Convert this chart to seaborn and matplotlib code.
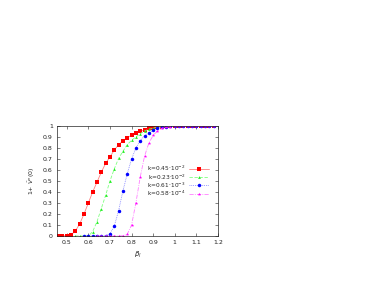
import numpy as np
import pandas as pd
import matplotlib
matplotlib.use("Agg")
import matplotlib.pyplot as plt
import seaborn as sns

labels = [r"k=0.45$\cdot$10$^{-2}$", r"k=0.23$\cdot$10$^{-2}$",
          r"k=0.61$\cdot$10$^{-3}$", r"k=0.58$\cdot$10$^{-4}$"]

x_red = [0.46, 0.48, 0.50, 0.52, 0.54, 0.56, 0.58, 0.60, 0.62, 0.64, 0.66, 0.68,
         0.70, 0.72, 0.74, 0.76, 0.78, 0.80, 0.82, 0.84, 0.86, 0.88, 0.90, 0.92,
         0.94, 0.96, 0.98, 1.00, 1.02, 1.04, 1.06, 1.08, 1.10, 1.12, 1.14, 1.16, 1.18]
y_red = [0.0, 0.0, 0.003, 0.01, 0.045, 0.11, 0.20, 0.30, 0.40, 0.49, 0.58, 0.66,
         0.72, 0.78, 0.83, 0.865, 0.895, 0.915, 0.935, 0.952, 0.965, 0.978, 0.986, 0.992,
         0.995, 0.997, 0.998, 0.999, 1.0, 1.0, 1.0, 1.0, 1.0, 1.0, 1.0, 1.0, 1.0]

x_green = [0.54, 0.56, 0.58, 0.60, 0.62, 0.64, 0.66, 0.68, 0.70, 0.72, 0.74, 0.76,
           0.78, 0.80, 0.82, 0.84, 0.86, 0.88, 0.90, 0.92, 0.94, 0.96, 0.98, 1.00,
           1.02, 1.04, 1.06, 1.08, 1.10, 1.12, 1.14, 1.16, 1.18]
y_green = [0.0, 0.0, 0.0, 0.0, 0.04, 0.13, 0.25, 0.37, 0.50, 0.61, 0.705, 0.77,
           0.83, 0.87, 0.90, 0.93, 0.955, 0.97, 0.98, 0.99, 0.994, 0.996, 0.998, 0.999,
           1.0, 1.0, 1.0, 1.0, 1.0, 1.0, 1.0, 1.0, 1.0]

x_blue = [0.58, 0.60, 0.62, 0.64, 0.66, 0.68, 0.70, 0.72, 0.74, 0.76, 0.78, 0.80,
          0.82, 0.84, 0.86, 0.88, 0.90, 0.92, 0.94, 0.96, 0.98, 1.00, 1.02, 1.04,
          1.06, 1.08, 1.10, 1.12, 1.14, 1.16, 1.18]
y_blue = [0.0, 0.0, 0.0, 0.0, 0.0, 0.0, 0.02, 0.09, 0.23, 0.41, 0.565, 0.70,
          0.80, 0.865, 0.91, 0.94, 0.96, 0.978, 0.99, 0.995, 0.998, 0.999, 1.0, 1.0,
          1.0, 1.0, 1.0, 1.0, 1.0, 1.0, 1.0]

x_mag = [0.64, 0.66, 0.68, 0.70, 0.72, 0.74, 0.76, 0.78, 0.80, 0.82, 0.84, 0.86,
         0.88, 0.90, 0.92, 0.94, 0.96, 0.98, 1.00, 1.02, 1.04, 1.06, 1.08, 1.10,
         1.12, 1.14, 1.16, 1.18]
y_mag = [0.0, 0.0, 0.0, 0.0, 0.0, 0.0, 0.002, 0.015, 0.10, 0.30, 0.535, 0.725,
         0.845, 0.915, 0.955, 0.978, 0.99, 0.995, 0.998, 1.0, 1.0, 1.0, 1.0, 1.0,
         1.0, 1.0, 1.0, 1.0]

xticks = [0.5, 0.6, 0.7, 0.8, 0.9, 1.0, 1.1, 1.2]
xticklabels = ["0.5", "0.6", "0.7", "0.8", "0.9", "1", "1.1", "1.2"]
yticks = [0.0, 0.1, 0.2, 0.3, 0.4, 0.5, 0.6, 0.7, 0.8, 0.9, 1.0]
yticklabels = ["0", "0.1", "0.2", "0.3", "0.4", "0.5", "0.6", "0.7", "0.8", "0.9", "1"]

sns.set_style("ticks")
plt.rcParams['font.family'] = ['DejaVu Sans']
plt.rcParams['mathtext.fontset'] = 'dejavusans'

fig = plt.figure(figsize=(3.74, 2.89), dpi=100)
ax = fig.add_axes([57/374, 1-236/289, 161/374, 110/289])

# (x, y, line colour, marker colour, marker, markersize, linestyle)
series = [
    (x_red, y_red, "#ff8080", "#ff0000", "s", 2.6, "-"),
    (x_green, y_green, "#80ff80", "#22ee22", "^", 2.0, (0, (4, 2))),
    (x_blue, y_blue, "#8080ff", "#0000ff", "o", 2.5, (0, (1, 1.2))),
    (x_mag, y_mag, "#ff80ff", "#ff00ff", "*", 2.6, (0, (5, 1.5, 1, 1.5))),
]
for (xs, ys, lcol, mcol, mk, ms, ls), lab in zip(series, labels):
    df = pd.DataFrame({"x": xs, "y": ys})
    sns.lineplot(data=df, x="x", y="y", ax=ax, color=lcol, marker=mk,
                 markersize=ms, markeredgewidth=0, markerfacecolor=mcol,
                 linewidth=0.6, linestyle=ls, label=lab)

ax.set_xlim(0.455, 1.2)
ax.set_ylim(0, 1.0)
ax.set_xticks(xticks)
ax.set_xticklabels(xticklabels)
ax.set_yticks(yticks)
ax.set_yticklabels(yticklabels)
ax.tick_params(direction="in", length=2, width=0.4, labelsize=4.5,
               top=True, right=True, pad=3, colors="#222222")
for s in ax.spines.values():
    s.set_linewidth(0.5)
    s.set_color("#222222")
ax.set_xlabel(r"$\beta_l$", fontsize=5, labelpad=3)
ax.set_ylabel(r"1+ $\bar{V}^{\prime\prime}(0)$", fontsize=4.5, labelpad=4)

leg = ax.legend(loc="center right", bbox_to_anchor=(0.96, 0.5), frameon=False,
                markerfirst=False, fontsize=4.2, handlelength=3.3,
                labelspacing=-0.2, borderpad=0, handletextpad=0.6)

fig.savefig("out.png", dpi=100)
